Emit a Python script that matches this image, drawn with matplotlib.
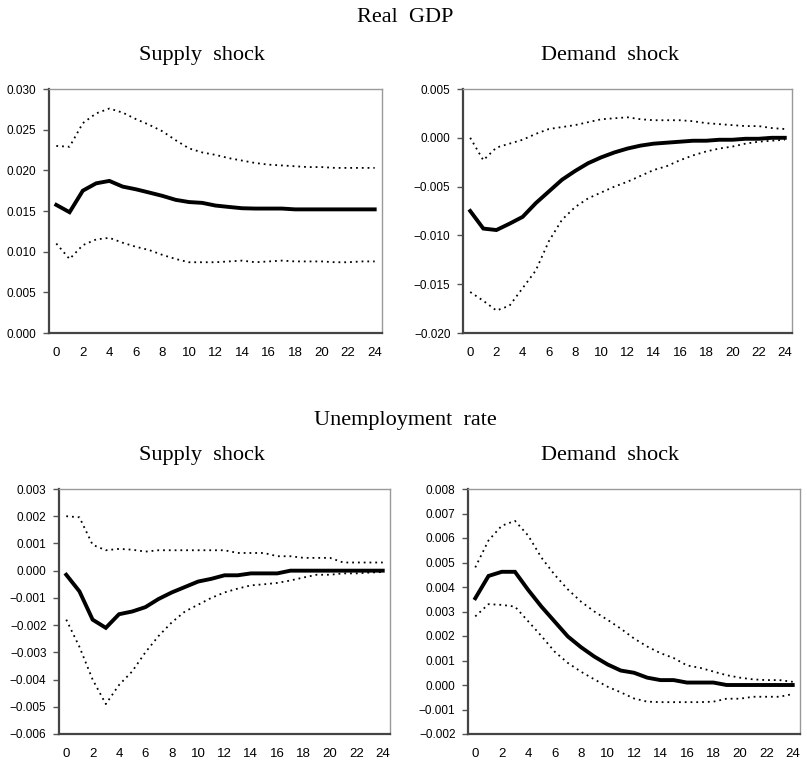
import matplotlib
matplotlib.use("Agg")
import matplotlib.pyplot as plt
import numpy as np

# Impulse responses over 0..24 quarters: point estimate and bands
horizon = np.arange(25)

gdp_supply_mid = [0.01575, 0.01485, 0.0175, 0.0184, 0.0187, 0.0180, 0.01767, 0.01727,
                  0.01686, 0.01637, 0.0161, 0.0160, 0.01567, 0.0155, 0.01534, 0.0153,
                  0.0153, 0.0153, 0.0152, 0.0152, 0.0152, 0.0152, 0.0152, 0.0152, 0.0152]
gdp_supply_hi = [0.0230, 0.0229, 0.0258, 0.0270, 0.0276, 0.0271, 0.0263, 0.0256,
                 0.0248, 0.0237, 0.0227, 0.0222, 0.0219, 0.0215, 0.0212, 0.0209,
                 0.0207, 0.0206, 0.0205, 0.0204, 0.0204, 0.0203, 0.0203, 0.0203, 0.0203]
gdp_supply_lo = [0.0110, 0.0091, 0.0108, 0.0115, 0.0117, 0.0111, 0.0106, 0.0102,
                 0.0096, 0.0091, 0.0087, 0.0087, 0.0087, 0.0088, 0.0089, 0.0087,
                 0.0088, 0.0089, 0.0088, 0.0088, 0.0088, 0.0087, 0.0087, 0.0088, 0.0088]

gdp_demand_mid = [-0.0075, -0.0093, -0.00945, -0.0088, -0.0081, -0.0067, -0.0055, -0.0043,
                  -0.0034, -0.0026, -0.0020, -0.0015, -0.0011, -0.0008, -0.0006, -0.0005,
                  -0.0004, -0.0003, -0.0003, -0.0002, -0.0002, -0.0001, -0.0001, 0.0, 0.0]
gdp_demand_hi = [0.0, -0.0023, -0.0010, -0.0006, -0.0002, 0.0004, 0.0009, 0.0011,
                 0.0013, 0.0016, 0.0019, 0.0020, 0.0021, 0.0019, 0.0018, 0.0018,
                 0.0018, 0.0017, 0.0015, 0.0014, 0.0013, 0.0012, 0.0012, 0.0010, 0.0009]
gdp_demand_lo = [-0.0158, -0.0167, -0.0177, -0.0172, -0.0154, -0.0136, -0.0106, -0.0084,
                 -0.0071, -0.0062, -0.0056, -0.0050, -0.0045, -0.0039, -0.0033, -0.0029,
                 -0.0023, -0.0018, -0.0014, -0.0011, -0.0009, -0.0006, -0.0004, -0.0003, -0.0002]

unemp_supply_mid = [-0.00015, -0.00076, -0.0018, -0.0021, -0.0016, -0.0015, -0.00134, -0.00104,
                    -0.0008, -0.0006, -0.0004, -0.0003, -0.00017, -0.00017, -0.0001, -0.0001,
                    -0.0001, 0.0, 0.0, 0.0, 0.0, 0.0, 0.0, 0.0, 0.0]
unemp_supply_hi = [0.0020, 0.00196, 0.00095, 0.00075, 0.0008, 0.00077, 0.0007, 0.00075,
                   0.00075, 0.00075, 0.00075, 0.00075, 0.00075, 0.00065, 0.00065, 0.00065,
                   0.00053, 0.00053, 0.00047, 0.00047, 0.00047, 0.0003, 0.0003, 0.0003, 0.0003]
unemp_supply_lo = [-0.0018, -0.0028, -0.0040, -0.0049, -0.0042, -0.0037, -0.0030, -0.0024,
                   -0.0019, -0.0015, -0.00125, -0.0010, -0.0008, -0.00066, -0.00054, -0.0005,
                   -0.00045, -0.00036, -0.00025, -0.00015, -0.00015, -0.0001, -0.0001, -0.00007, -0.00005]

unemp_demand_mid = [0.00354, 0.00445, 0.00462, 0.00462, 0.00388, 0.0032, 0.00259, 0.00198,
                    0.00154, 0.00116, 0.00084, 0.00059, 0.0005, 0.0003, 0.0002, 0.0002,
                    0.0001, 0.0001, 0.0001, 0.0, 0.0, 0.0, 0.0, 0.0, 0.0]
unemp_demand_hi = [0.0048, 0.0059, 0.0065, 0.0067, 0.0061, 0.0052, 0.0045, 0.0039,
                   0.0034, 0.0030, 0.00266, 0.0023, 0.0019, 0.00157, 0.0013, 0.0011,
                   0.0008, 0.0007, 0.00055, 0.0004, 0.0003, 0.00023, 0.0002, 0.0002, 0.00013]
unemp_demand_lo = [0.0028, 0.0033, 0.00327, 0.0032, 0.0026, 0.0020, 0.00136, 0.0009,
                   0.00054, 0.00023, -0.00007, -0.0003, -0.00055, -0.00068, -0.0007, -0.0007,
                   -0.0007, -0.0007, -0.00068, -0.00056, -0.00056, -0.00048, -0.00048, -0.00048, -0.00037]

x_ticks = list(range(0, 25, 2))

SERIF = ["Liberation Serif", "DejaVu Serif"]
SANS = ["Liberation Sans Narrow", "Liberation Sans", "DejaVu Sans"]

W, H = 807, 765


def rect(left, top, right, bottom):
    return [left / W, 1 - bottom / H, (right - left) / W, (bottom - top) / H]


# (axes rect, ylim, ytick step, series, panel title, title x in px)
panels = [
    (rect(49, 89, 382, 333), (0.0, 0.030), 0.005,
     (gdp_supply_mid, gdp_supply_hi, gdp_supply_lo), "Supply  shock", 202),
    (rect(463, 89, 792, 333), (-0.020, 0.005), 0.005,
     (gdp_demand_mid, gdp_demand_hi, gdp_demand_lo), "Demand  shock", 610),
    (rect(59, 489, 390, 734), (-0.006, 0.003), 0.001,
     (unemp_supply_mid, unemp_supply_hi, unemp_supply_lo), "Supply  shock", 202),
    (rect(468, 489, 800, 734), (-0.002, 0.008), 0.001,
     (unemp_demand_mid, unemp_demand_hi, unemp_demand_lo), "Demand  shock", 610),
]


def fmt(v, _):
    if abs(v) < 1e-9:
        return "0.000"
    return f"{v:.3f}".replace("-", "\u2212")


fig = plt.figure(figsize=(W / 100, H / 100), dpi=100)

for box, ylim, step, (mid, hi, lo), title, tx in panels:
    ax = fig.add_axes(box)
    ax.plot(horizon, hi, color="black", lw=1.3, ls=(0, (1, 2.2)))
    ax.plot(horizon, lo, color="black", lw=1.3, ls=(0, (1, 2.2)))
    ax.plot(horizon, mid, color="black", lw=2.8, solid_joinstyle="miter")
    ax.set_xlim(-0.55, 24.55)
    ax.set_ylim(*ylim)
    ax.set_yticks(np.arange(ylim[0], ylim[1] + step / 2, step))
    ax.yaxis.set_major_formatter(plt.FuncFormatter(fmt))
    ax.set_xticks(x_ticks)
    ax.tick_params(axis="x", length=0, pad=10, labelsize=9.5)
    ax.tick_params(axis="y", length=4, width=1, color="#555555", pad=5, labelsize=8.5)
    for lab in ax.get_xticklabels() + ax.get_yticklabels():
        lab.set_family(SANS)
    for side in ("top", "right"):
        ax.spines[side].set_color("#999999")
        ax.spines[side].set_linewidth(1.0)
    for side in ("left", "bottom"):
        ax.spines[side].set_color("#444444")
        ax.spines[side].set_linewidth(1.6)
    fig.text(tx / W, box[1] + box[3] + 34 / H, title, ha="center", va="center",
             family=SERIF, fontsize=16)

fig.text(405 / W, 1 - 17 / H, "Real  GDP", ha="center", va="center", family=SERIF, fontsize=16)
fig.text(405 / W, 1 - 420 / H, "Unemployment  rate", ha="center", va="center",
         family=SERIF, fontsize=16)

fig.savefig("out.png", dpi=100)
